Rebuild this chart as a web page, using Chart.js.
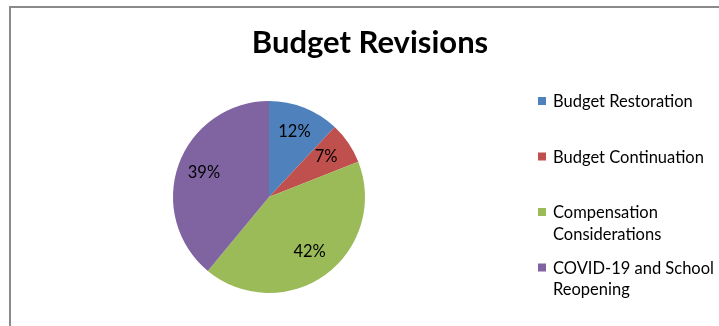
<!DOCTYPE html>
<html>
<head>
<meta charset="utf-8">
<script src="https://cdn.jsdelivr.net/npm/chart.js@4.4.0/dist/chart.umd.min.js"></script>
<style>
  html, body { margin: 0; padding: 0; background: #fff; }
  #wrap { position: relative; width: 719px; height: 326px; }
</style>
</head>
<body>
<div id="wrap"><canvas id="budgetChart" width="719" height="326"></canvas></div>
<script>
// chart data
let chartTitle = 'Budget Revisions';
let categories = ['Budget Restoration', 'Budget Continuation', 'Compensation Considerations', 'COVID-19 and School Reopening'];
let shares = [12, 7, 42, 39]; // percent
let sliceColors = ['#4F81BD', '#C0504D', '#9BBB59', '#8064A2'];

const FONT = 'Lato, "Open Sans", sans-serif';

// break a legend label into lines that fit maxW
function wrapText(ctx, text, maxW) {
    let words = text.split(' ');
    let lines = [];
    let cur = '';
    words.forEach(w => {
        let test = cur ? cur + ' ' + w : w;
        if (ctx.measureText(test).width > maxW && cur) {
            lines.push(cur);
            cur = w;
        } else {
            cur = test;
        }
    });
    if (cur) lines.push(cur);
    return lines;
}

// frame, title, slice labels and legend
const excelLook = {
    id: 'excelLook',
    beforeDraw(chart) {
        let ctx = chart.ctx;
        ctx.save();
        ctx.strokeStyle = '#8a8a8a';
        ctx.lineWidth = 2;
        ctx.beginPath();
        ctx.moveTo(10, 330);
        ctx.lineTo(10, 7);
        ctx.lineTo(725, 7);
        ctx.stroke();
        ctx.restore();
    },
    afterDraw(chart) {
        let ctx = chart.ctx;
        ctx.save();
        // title
        ctx.fillStyle = '#000';
        ctx.font = 'bold 31px ' + FONT;
        ctx.textAlign = 'center';
        ctx.textBaseline = 'middle';
        ctx.fillText(chartTitle, 370, 43);

        // percentage labels inside slices
        ctx.font = '16.5px ' + FONT;
        let meta = chart.getDatasetMeta(0);
        meta.data.forEach((arc, i) => {
            let p = arc.getProps(['x', 'y', 'startAngle', 'endAngle', 'outerRadius']);
            let mid = (p.startAngle + p.endAngle) / 2;
            let r = p.outerRadius * 0.72;
            ctx.fillText(shares[i] + '%', p.x + Math.cos(mid) * r, p.y + Math.sin(mid) * r - 1);
        });

        // legend
        ctx.font = '16.5px ' + FONT;
        ctx.textAlign = 'left';
        categories.forEach((label, i) => {
            let y = 102 + i * 55.5;
            ctx.fillStyle = sliceColors[i];
            ctx.fillRect(538, y - 5, 8, 8);
            ctx.fillStyle = '#000';
            wrapText(ctx, label, 180).forEach((line, j) => {
                ctx.fillText(line, 553, y + j * 21.5);
            });
        });
        ctx.restore();
    }
};

let budgetChart = new Chart(document.getElementById('budgetChart').getContext('2d'), {
    type: 'pie',
    data: {
        labels: categories,
        datasets: [{
            data: shares,
            backgroundColor: sliceColors,
            borderWidth: 0
        }]
    },
    options: {
        responsive: false,
        animation: false,
        layout: {
            padding: { left: 173, right: 354, top: 101, bottom: 33 }
        },
        plugins: {
            legend: { display: false },
            title: { display: false },
            tooltip: { enabled: false }
        }
    },
    plugins: [excelLook]
});
</script>
</body>
</html>
